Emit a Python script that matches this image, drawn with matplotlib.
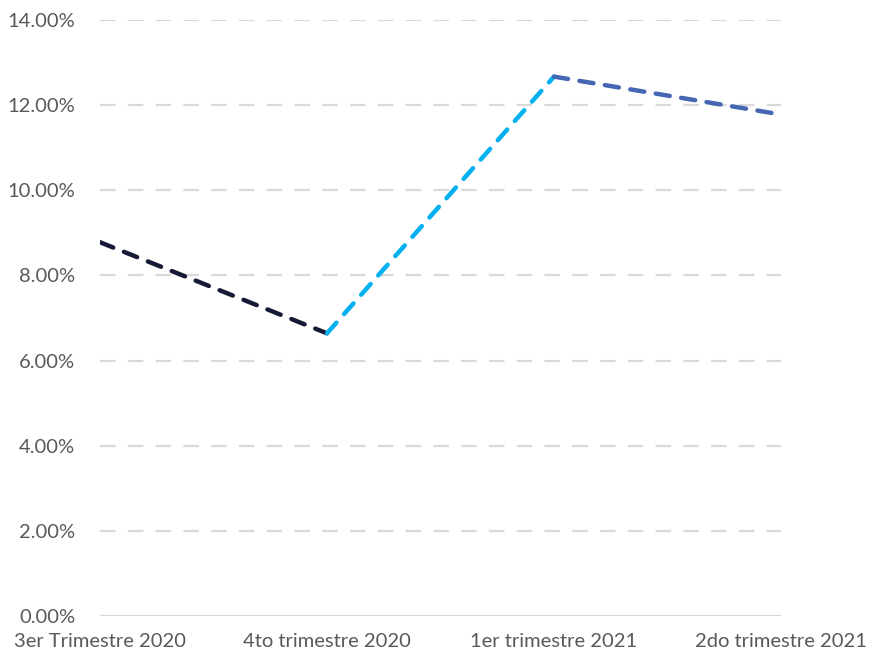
import numpy as np
import matplotlib.pyplot as plt
from matplotlib.ticker import FuncFormatter

# Datos
trimestres = ['3er Trimestre 2020', '4to trimestre 2020', '1er trimestre 2021', '2do trimestre 2021']
valores = [8.78, 6.64, 12.67, 11.78]   # %
colores_seg = ['#161a36', '#00b0f0', '#4466b3']

plt.rcParams['font.family'] = ['Lato', 'DejaVu Sans']

fig = plt.figure(figsize=(8.75, 6.54), dpi=100)
ax = fig.add_axes([100/875, 38/654, 681/875, 596/654])

x = np.arange(len(trimestres))
for k in range(len(x) - 1):
    ax.plot(x[k:k+2], valores[k:k+2], color=colores_seg[k], lw=3.2,
            linestyle=(0, (3.2, 2.6)), dash_capstyle='round', solid_capstyle='round', zorder=3)

ax.set_xlim(0, 3)
ax.set_ylim(0, 14)
ax.set_yticks(np.arange(0, 14.1, 2))
ax.yaxis.set_major_formatter(FuncFormatter(lambda v, p: f'{v:.2f}%'))
ax.set_xticks(x)
ax.set_xticklabels(trimestres)

for yv in np.arange(2, 14.1, 2):
    ax.axhline(yv, color='#d9d9d9', lw=1.6, linestyle=(0, (7, 5.5)), zorder=1)
ax.axhline(0, color='#d9d9d9', lw=1.6, zorder=1)

for s in ax.spines.values():
    s.set_visible(False)
ax.tick_params(axis='both', length=0, labelsize=14.5, colors='#595959')
ax.tick_params(axis='y', pad=18)
ax.tick_params(axis='x', pad=12)

fig.savefig('out.png', dpi=100)
